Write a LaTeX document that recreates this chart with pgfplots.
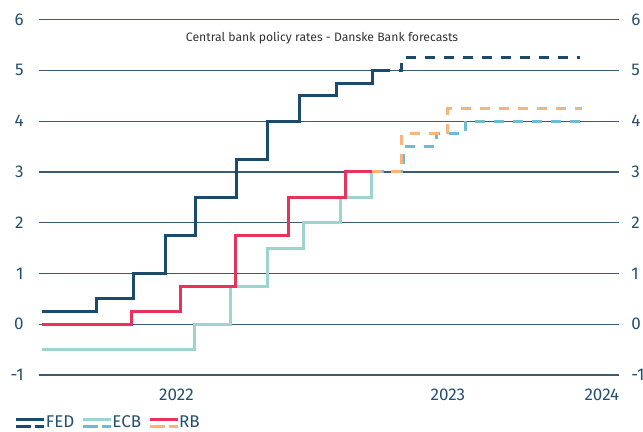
\documentclass[border=0pt]{standalone}
\usepackage{fontspec}
\setmainfont{Fira Sans}
\usepackage{pgfplots}
\pgfplotsset{compat=1.18}

\definecolor{fed}{HTML}{1B4A6B}
\definecolor{ecb}{HTML}{9DD4CF}
\definecolor{ecbf}{HTML}{6CBDD3}
\definecolor{rb}{HTML}{E8325A}
\definecolor{rbf}{HTML}{F9B47A}
\definecolor{gridc}{HTML}{3B5B73}
\definecolor{lab}{HTML}{24506F}

% x = days after 1 Jan 2022
\pgfplotsset{
  base/.style={
    scale only axis, width=290pt, height=177.7pt,
    xmin=-2.7, xmax=777, ymin=-1, ymax=6,
    axis line style={draw=none},
    major tick length=0pt,
    ytick={-1,0,1,2,3,4,5,6},
    yticklabels={-1,0,1,2,3,4,5,6},
    tick label style={font=\fontsize{8.5}{10}\selectfont, text=lab, inner sep=0pt},
  },
  fcast/.style={line width=1.5pt, dash pattern=on 5pt off 4.5pt},
  act/.style={line width=1.5pt},
}

\begin{document}
\begin{tikzpicture}
\begin{axis}[base, name=main,
  ymajorgrids, grid style={gridc, line width=0.6pt},
  xtick={182,547,754}, xticklabels={2022,2023,2024},
  xticklabel style={anchor=north, yshift=-7pt},
  yticklabel style={anchor=east, xshift=-7.5pt},
  legend style={at={(axis description cs:-0.0414,-0.135)}, anchor=west,
    draw=none, fill=none, inner sep=0pt, outer sep=0pt,
    font=\fontsize{8.5}{10}\selectfont, text=lab,
    legend columns=-1,
    /tikz/every odd column/.style={column sep=0pt},
    /tikz/every even column/.style={column sep=3.5pt},
    nodes={inner sep=0pt}},
]
% FED
\addplot[const plot, act, fed, forget plot] coordinates {
  (2,0.25) (75,0.5) (124,1.0) (167,1.75) (208,2.5) (263,3.25) (305,4.0)
  (348,4.5) (397,4.75) (445,5.0) (456,5.0)};
\addplot[const plot, fcast, fed, forget plot] coordinates {
  (456,5.0) (485,5.25) (724,5.25)};
% ECB
\addplot[const plot, act, ecb, forget plot] coordinates {
  (2,-0.5) (207,0) (255,0.75) (305,1.5) (353,2.0) (402,2.5) (444,3.0) (447,3.0)};
\addplot[const plot, fcast, ecbf, forget plot] coordinates {
  (447,3.0) (487,3.5) (531,3.75) (571,4.0) (724,4.0)};
% RB
\addplot[const plot, act, rb, forget plot] coordinates {
  (2,0) (122,0.25) (187,0.75) (262,1.75) (333,2.5) (409,3.0) (445,3.0)};
\addplot[const plot, fcast, rbf, forget plot] coordinates {
  (445,3.0) (485,3.75) (547,4.25) (727,4.25)};

\addlegendimage{legend image code/.code={
  \draw[fed, line width=1.5pt] (0pt,1.7pt) -- (14pt,1.7pt);
  \draw[fed, line width=1.5pt] (0pt,-1.7pt) -- (7.5pt,-1.7pt) (9.5pt,-1.7pt) -- (14pt,-1.7pt);}}
\addlegendentry{FED}
\addlegendimage{legend image code/.code={
  \draw[ecb, line width=1.5pt] (0pt,1.7pt) -- (14pt,1.7pt);
  \draw[ecbf, line width=1.5pt] (0pt,-1.7pt) -- (7.5pt,-1.7pt) (9.5pt,-1.7pt) -- (14pt,-1.7pt);}}
\addlegendentry{ECB}
\addlegendimage{legend image code/.code={
  \draw[rb, line width=1.5pt] (0pt,1.7pt) -- (14pt,1.7pt);
  \draw[rbf, line width=1.5pt] (0pt,-1.7pt) -- (7.5pt,-1.7pt) (9.5pt,-1.7pt) -- (14pt,-1.7pt);}}
\addlegendentry{RB}

\node[font=\fontsize{6.1}{7}\selectfont, text=black!80] at (axis description cs:0.488,0.948)
  {Central bank policy rates - Danske Bank forecasts};
\end{axis}

\begin{axis}[base,
  xtick=\empty,
  yticklabel pos=right,
  yticklabel style={anchor=west, xshift=6pt},
]
\addplot[draw=none, forget plot] coordinates {(0,0)};
\end{axis}

\pgfresetboundingbox
\path[use as bounding box] ([shift={(-19.5pt,-28.5pt)}]main.south west)
  rectangle ([shift={(302pt,187.5pt)}]main.south west);
\end{tikzpicture}
\end{document}
